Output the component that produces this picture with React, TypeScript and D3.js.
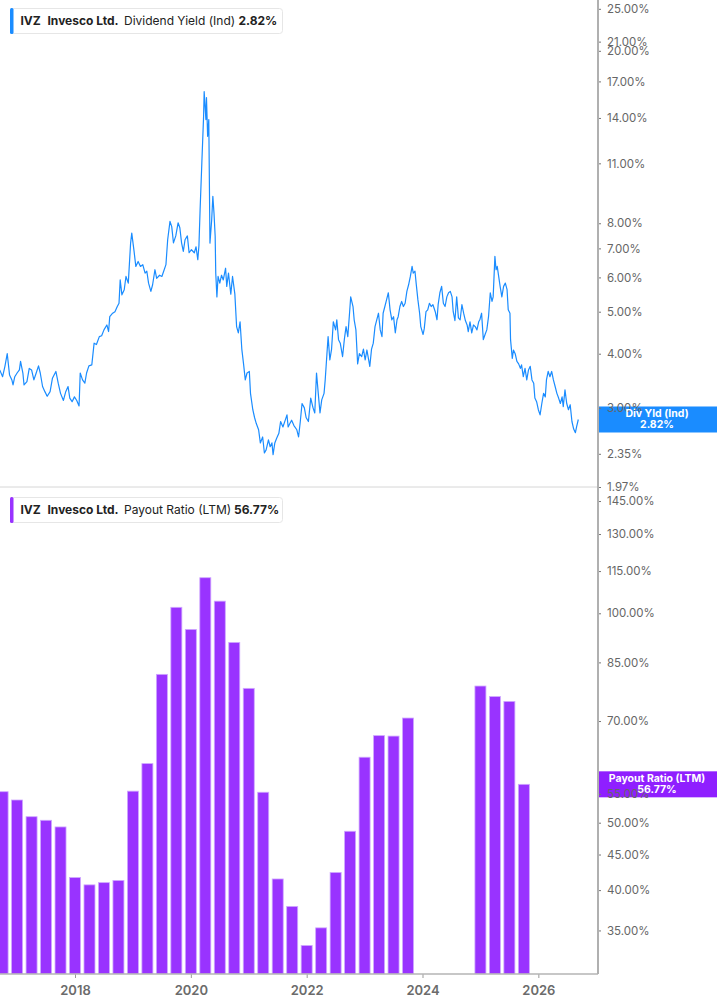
import * as React from "react";
import * as d3 from "d3";

const W = 717;
const H = 1005;
const plotRight = 598;
const splitY = 487;
const bottomY = 974;
const font = "Inter, 'Noto Sans', sans-serif";

// dividend yield (%), [decimal year, value]
const divYield: [number, number][] = [
  [2016.7, 3.67], [2016.75, 3.54], [2016.79, 3.74], [2016.83, 4.0], [2016.87, 3.57],
  [2016.91, 3.48], [2016.93, 3.39], [2016.96, 3.54], [2017.0, 3.61], [2017.04, 3.67],
  [2017.06, 3.84], [2017.1, 3.61], [2017.12, 3.39], [2017.17, 3.45], [2017.21, 3.7],
  [2017.25, 3.67], [2017.29, 3.48], [2017.33, 3.61], [2017.37, 3.75], [2017.4, 3.61],
  [2017.44, 3.36], [2017.48, 3.27], [2017.52, 3.19], [2017.57, 3.27], [2017.61, 3.51],
  [2017.67, 3.64], [2017.71, 3.42], [2017.75, 3.24], [2017.8, 3.12], [2017.84, 3.27],
  [2017.88, 3.36], [2017.91, 3.16], [2017.95, 3.1], [2017.99, 3.18], [2018.03, 3.12],
  [2018.07, 3.03], [2018.09, 3.61], [2018.13, 3.48], [2018.17, 3.42], [2018.2, 3.61],
  [2018.24, 3.75], [2018.29, 3.77], [2018.33, 4.23], [2018.37, 4.2], [2018.42, 4.38],
  [2018.46, 4.4], [2018.5, 4.54], [2018.55, 4.66], [2018.58, 4.5], [2018.6, 4.87],
  [2018.65, 4.96], [2018.69, 5.0], [2018.73, 5.14], [2018.76, 5.23], [2018.78, 5.92],
  [2018.81, 5.47], [2018.85, 5.62], [2018.88, 6.03], [2018.92, 5.82], [2018.96, 7.2],
  [2018.98, 7.59], [2019.02, 6.89], [2019.05, 6.36], [2019.09, 6.53], [2019.13, 6.36],
  [2019.17, 6.42], [2019.21, 6.14], [2019.24, 6.2], [2019.27, 5.82], [2019.31, 5.57],
  [2019.34, 5.77], [2019.38, 6.25], [2019.41, 5.97], [2019.46, 6.07], [2019.5, 6.03],
  [2019.54, 6.25], [2019.57, 6.42], [2019.6, 7.33], [2019.64, 8.08], [2019.67, 7.86],
  [2019.7, 7.21], [2019.74, 7.48], [2019.78, 8.02], [2019.81, 7.81], [2019.84, 7.21],
  [2019.87, 6.89], [2019.9, 7.33], [2019.94, 7.48], [2019.97, 6.84], [2020.01, 6.95],
  [2020.06, 6.84], [2020.09, 7.06], [2020.12, 6.59], [2020.14, 7.11], [2020.16, 8.6],
  [2020.19, 11.03], [2020.22, 14.1], [2020.23, 16.1], [2020.26, 13.88], [2020.27, 15.6],
  [2020.29, 12.7], [2020.31, 13.88], [2020.33, 7.2], [2020.36, 8.15], [2020.38, 9.23],
  [2020.4, 8.43], [2020.42, 7.47], [2020.43, 6.14], [2020.45, 5.41], [2020.47, 6.03],
  [2020.5, 5.82], [2020.53, 6.07], [2020.56, 5.92], [2020.6, 6.3], [2020.62, 5.72],
  [2020.65, 6.14], [2020.69, 5.49], [2020.72, 6.03], [2020.76, 5.49], [2020.79, 4.62],
  [2020.82, 4.47], [2020.85, 4.74], [2020.88, 4.1], [2020.91, 3.79], [2020.94, 3.48],
  [2020.97, 3.61], [2021.01, 3.64], [2021.03, 3.24], [2021.07, 2.97], [2021.1, 2.85],
  [2021.13, 2.76], [2021.17, 2.67], [2021.2, 2.49], [2021.24, 2.57], [2021.27, 2.36],
  [2021.3, 2.4], [2021.34, 2.53], [2021.37, 2.44], [2021.4, 2.49], [2021.42, 2.34],
  [2021.45, 2.49], [2021.48, 2.55], [2021.52, 2.62], [2021.55, 2.79], [2021.59, 2.71],
  [2021.63, 2.81], [2021.66, 2.89], [2021.68, 2.71], [2021.71, 2.76], [2021.74, 2.81],
  [2021.78, 2.73], [2021.83, 2.67], [2021.86, 2.57], [2021.89, 2.79], [2021.92, 3.07],
  [2021.96, 3.0], [2021.99, 2.85], [2022.03, 2.79], [2022.07, 3.16], [2022.11, 3.0],
  [2022.14, 2.92], [2022.17, 3.61], [2022.2, 3.24], [2022.23, 2.92], [2022.26, 3.13],
  [2022.3, 3.24], [2022.32, 3.48], [2022.35, 4.0], [2022.37, 4.38], [2022.4, 3.87],
  [2022.43, 4.1], [2022.46, 4.74], [2022.5, 4.54], [2022.52, 4.79], [2022.55, 4.31],
  [2022.58, 4.23], [2022.62, 3.94], [2022.65, 4.31], [2022.68, 4.62], [2022.71, 4.38],
  [2022.74, 4.96], [2022.76, 5.41], [2022.8, 5.14], [2022.82, 4.79], [2022.85, 4.54],
  [2022.88, 3.79], [2022.91, 4.0], [2022.95, 3.94], [2022.98, 4.1], [2023.01, 3.87],
  [2023.04, 4.08], [2023.07, 3.87], [2023.09, 3.74], [2023.12, 4.1], [2023.15, 4.23],
  [2023.18, 4.62], [2023.21, 4.79], [2023.24, 4.96], [2023.27, 4.54], [2023.3, 4.38],
  [2023.32, 4.96], [2023.35, 5.14], [2023.38, 5.33], [2023.41, 5.53], [2023.44, 5.05],
  [2023.47, 4.79], [2023.5, 4.87], [2023.53, 4.47], [2023.56, 4.79], [2023.58, 4.87],
  [2023.61, 5.14], [2023.64, 5.28], [2023.67, 5.14], [2023.7, 5.23], [2023.73, 5.57],
  [2023.76, 5.77], [2023.79, 6.03], [2023.82, 6.36], [2023.84, 6.14], [2023.87, 6.2],
  [2023.89, 5.82], [2023.92, 5.33], [2023.95, 4.96], [2023.97, 4.62], [2024.01, 4.43],
  [2024.03, 4.57], [2024.06, 5.0], [2024.09, 5.05], [2024.12, 5.23], [2024.15, 5.14],
  [2024.18, 5.19], [2024.22, 5.0], [2024.25, 4.79], [2024.27, 5.19], [2024.3, 5.53],
  [2024.33, 5.72], [2024.36, 5.23], [2024.39, 5.14], [2024.42, 5.41], [2024.45, 5.53],
  [2024.48, 5.57], [2024.51, 5.41], [2024.53, 5.0], [2024.56, 4.77], [2024.59, 5.41],
  [2024.62, 4.84], [2024.65, 4.79], [2024.68, 5.19], [2024.71, 4.96], [2024.74, 4.77],
  [2024.77, 4.66], [2024.79, 4.5], [2024.82, 4.74], [2024.85, 4.47], [2024.88, 4.66],
  [2024.91, 4.62], [2024.94, 4.54], [2024.97, 4.74], [2024.99, 4.79], [2025.02, 4.96],
  [2025.05, 4.31], [2025.08, 4.43], [2025.11, 4.54], [2025.14, 4.87], [2025.17, 5.53],
  [2025.2, 5.28], [2025.22, 5.41], [2025.25, 6.71], [2025.27, 6.25], [2025.29, 6.36],
  [2025.32, 5.97], [2025.34, 5.72], [2025.37, 5.41], [2025.4, 5.72], [2025.43, 5.82],
  [2025.46, 5.62], [2025.48, 5.05], [2025.51, 4.96], [2025.52, 4.31], [2025.55, 3.9],
  [2025.57, 4.08], [2025.6, 4.0], [2025.63, 3.84], [2025.66, 3.79], [2025.69, 3.7],
  [2025.71, 3.77], [2025.74, 3.54], [2025.77, 3.7], [2025.8, 3.48], [2025.83, 3.67],
  [2025.86, 3.74], [2025.89, 3.48], [2025.92, 3.42], [2025.94, 3.16], [2025.97, 3.1],
  [2026.0, 2.97], [2026.03, 2.89], [2026.06, 3.07], [2026.09, 3.24], [2026.12, 3.18],
  [2026.14, 3.48], [2026.17, 3.64], [2026.2, 3.54], [2026.23, 3.64], [2026.26, 3.48],
  [2026.29, 3.36], [2026.32, 3.24], [2026.35, 3.16], [2026.38, 3.07], [2026.41, 3.18],
  [2026.43, 3.02], [2026.46, 3.3], [2026.49, 3.07], [2026.52, 2.97], [2026.55, 3.05],
  [2026.58, 2.79], [2026.61, 2.68], [2026.64, 2.63], [2026.66, 2.71], [2026.69, 2.82],
];

// payout ratio (LTM, %), one bar per quarter end
const payoutQuarters = [
  "2016Q3", "2016Q4",
  "2017Q1", "2017Q2", "2017Q3", "2017Q4",
  "2018Q1", "2018Q2", "2018Q3", "2018Q4",
  "2019Q1", "2019Q2", "2019Q3", "2019Q4",
  "2020Q1", "2020Q2", "2020Q3", "2020Q4",
  "2021Q1", "2021Q2", "2021Q3", "2021Q4",
  "2022Q1", "2022Q2", "2022Q3", "2022Q4",
  "2023Q1", "2023Q2", "2023Q3",
  "2024Q4", "2025Q1", "2025Q2", "2025Q3",
];
const payoutValues = [
  55.4, 53.9,
  51.0, 50.4, 49.3, 41.7,
  40.7, 41.0, 41.3, 55.5,
  60.8, 81.7, 102.0, 94.8,
  112.5, 104.1, 90.8, 78.0,
  55.3, 41.5, 37.9, 33.3,
  35.3, 42.4, 48.6, 62.1,
  66.7, 66.6, 70.7,
  78.6, 75.9, 74.7, 56.77,
];

const yearTicks = [2018, 2020, 2022, 2024, 2026];
const yieldTicks = [25, 21, 20, 17, 14, 11, 8, 7, 6, 5, 4, 3, 2.35, 1.97];
const payoutTicks = [145, 130, 115, 100, 85, 70, 55, 50, 45, 40, 35];

const lastYield = 2.82;
const lastPayout = 56.77;

const blue = "#1a8cff";
const purple = "#9933ff";
const purpleBox = "#8f1fff";

const quarterEnd = (q: string) => +q.slice(0, 4) + +q.slice(5) / 4;
const pct = (d: any) => (+d).toFixed(2) + "%";

export default function App() {
  const ref = React.useRef<SVGSVGElement>(null);

  React.useEffect(() => {
    if (!ref.current) return;
    const svg = d3.select(ref.current);
    svg.selectAll("*").remove();

    const x = d3.scaleLinear().domain([2016.705, 2027.03]).range([0, plotRight]);
    const yTop = d3.scaleLog().domain([1.97, 26.2]).range([splitY, 0]);
    const yBot = d3.scaleLog().domain([30.3, 151.9]).range([bottomY, splitY]);

    svg
      .append("defs")
      .append("clipPath")
      .attr("id", "plotClip")
      .append("rect")
      .attr("x", 0)
      .attr("y", 0)
      .attr("width", plotRight)
      .attr("height", bottomY);

    // divider between panels
    svg
      .append("line")
      .attr("x1", 0)
      .attr("x2", plotRight)
      .attr("y1", splitY)
      .attr("y2", splitY)
      .attr("stroke", "#d6d6d6")
      .attr("stroke-width", 1);

    // bars
    const bw = x(2018.19) - x(2018);
    svg
      .append("g")
      .attr("clip-path", "url(#plotClip)")
      .selectAll("rect")
      .data(payoutQuarters.map((q, i) => ({ t: quarterEnd(q), v: payoutValues[i] })))
      .enter()
      .append("rect")
      .attr("x", d => x(d.t) - bw / 2)
      .attr("y", d => yBot(d.v))
      .attr("width", bw)
      .attr("height", d => bottomY - yBot(d.v))
      .attr("fill", purple)
      .attr("stroke", "#cfa8ff")
      .attr("stroke-width", 0.8);

    // yield line
    const line = d3
      .line<[number, number]>()
      .x(d => x(d[0]))
      .y(d => yTop(d[1]));
    svg
      .append("path")
      .attr("clip-path", "url(#plotClip)")
      .attr("d", line(divYield))
      .attr("fill", "none")
      .attr("stroke", blue)
      .attr("stroke-width", 1.2)
      .attr("stroke-linejoin", "round");

    // value boxes (drawn under tick labels)
    const boxes = [
      { y: yTop(lastYield), color: blue, label: "Div Yld (Ind)", value: "2.82%" },
      { y: yBot(lastPayout), color: purpleBox, label: "Payout Ratio (LTM)", value: "56.77%" },
    ];
    svg
      .selectAll(".vbox")
      .data(boxes)
      .enter()
      .append("rect")
      .attr("class", "vbox")
      .attr("x", plotRight)
      .attr("y", d => d.y - 13)
      .attr("width", W - plotRight)
      .attr("height", 26)
      .attr("fill", d => d.color);

    // right axes
    const styleAxis = (g: any) => {
      g.select(".domain").remove();
      g.selectAll(".tick line").attr("stroke", "#777").attr("stroke-width", 1);
      g.selectAll(".tick text")
        .attr("fill", "#666")
        .attr("font-family", font)
        .attr("font-size", 11.5);
    };
    svg
      .append("g")
      .attr("transform", `translate(${plotRight},0)`)
      .call(d3.axisRight(yTop).tickValues(yieldTicks).tickFormat(pct).tickSize(3).tickPadding(6))
      .call(styleAxis);
    svg
      .append("g")
      .attr("transform", `translate(${plotRight},0)`)
      .call(d3.axisRight(yBot).tickValues(payoutTicks).tickFormat(pct).tickSize(3).tickPadding(6))
      .call(styleAxis);

    // box text
    const bt = svg
      .selectAll(".vtext")
      .data(boxes)
      .enter()
      .append("g")
      .attr("class", "vtext")
      .attr("font-family", font)
      .attr("font-size", 10.5)
      .attr("font-weight", 700)
      .attr("fill", "#fff")
      .attr("text-anchor", "middle");
    bt.append("text")
      .attr("x", 657)
      .attr("y", d => d.y - 2.2)
      .text(d => d.label);
    bt.append("text")
      .attr("x", 657)
      .attr("y", d => d.y + 9)
      .text(d => d.value);

    // x axis
    const xa = svg
      .append("g")
      .attr("transform", `translate(0,${bottomY})`)
      .call(d3.axisBottom(x).tickValues(yearTicks).tickFormat(d3.format("d")).tickSize(4).tickPadding(8));
    xa.select(".domain").remove();
    xa.selectAll(".tick line").attr("stroke", "#999");
    xa.selectAll(".tick text")
      .attr("fill", "#6b6b6b")
      .attr("font-family", font)
      .attr("font-size", 13)
      .attr("font-weight", 600);

    // frame lines
    svg
      .append("line")
      .attr("x1", 0)
      .attr("x2", plotRight)
      .attr("y1", bottomY)
      .attr("y2", bottomY)
      .attr("stroke", "#b4b4b4")
      .attr("stroke-width", 1.5);
    svg
      .append("line")
      .attr("x1", plotRight)
      .attr("x2", plotRight)
      .attr("y1", 0)
      .attr("y2", bottomY)
      .attr("stroke", "#b0b0b0")
      .attr("stroke-width", 2);

    // legends
    const legends = [
      { y: 8, color: blue, metric: "Dividend Yield (Ind)", value: "2.82%", vx: 238.5 },
      { y: 497, color: purple, metric: "Payout Ratio (LTM)", value: "56.77%", vx: 234 },
    ];
    const lg = svg
      .selectAll(".legend")
      .data(legends)
      .enter()
      .append("g")
      .attr("class", "legend")
      .attr("transform", d => `translate(10,${d.y})`)
      .attr("font-family", font)
      .attr("font-size", 12)
      .attr("fill", "#222");
    lg.append("rect")
      .attr("x", 0.5)
      .attr("y", 0.5)
      .attr("width", 272)
      .attr("height", 25)
      .attr("rx", 3)
      .attr("fill", "#fff")
      .attr("stroke", "#e6e6e6");
    lg.append("rect")
      .attr("x", 0)
      .attr("y", 0)
      .attr("width", 3.5)
      .attr("height", 26)
      .attr("rx", 1.5)
      .attr("fill", d => d.color);
    lg.append("text").attr("x", 10.5).attr("y", 17).attr("font-weight", 700).text("IVZ");
    lg.append("text").attr("x", 37.5).attr("y", 17).attr("font-weight", 700).text("Invesco Ltd.");
    lg.append("text").attr("x", 114).attr("y", 17).text(d => d.metric);
    lg.append("text")
      .attr("x", d => d.vx - 10)
      .attr("y", 17)
      .attr("font-weight", 700)
      .text(d => d.value);
  }, []);

  return (
    <svg
      ref={ref}
      width={W}
      height={H}
      style={{ position: "absolute", left: 0, top: 0, background: "#fff" }}
    />
  );
}
